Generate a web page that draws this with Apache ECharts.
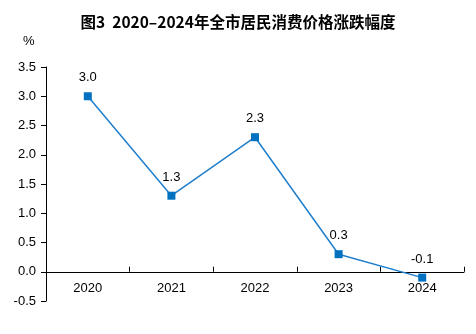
<!DOCTYPE html>
<html>
<head>
<meta charset="utf-8">
<script src="https://cdn.jsdelivr.net/npm/echarts@6/dist/echarts.min.js"></script>
<style>
  html, body { margin: 0; padding: 0; background: #fff; }
  #chart { width: 476px; height: 334px; }
</style>
</head>
<body>
<div id="chart"></div>
<script>
// Annual change in consumer prices, %
const years = ['2020', '2021', '2022', '2023', '2024'];
const cpiChange = [3.0, 1.3, 2.3, 0.3, -0.1];
const yTicks = { min: -0.5, max: 3.5, step: 0.5 };

const gridTop = 67, gridBottom = 33, chartH = 334;
// place the category axis on the zero line
const plotH = chartH - gridTop - gridBottom;
const zeroOffset = -plotH * (0 - yTicks.min) / (yTicks.max - yTicks.min);

const chart = echarts.init(document.getElementById('chart'), null, { renderer: 'canvas' });
const sans = 'Liberation Sans';
const axisFont = { fontFamily: sans, fontSize: 13, color: '#000' };

chart.setOption({
  animation: false,
  backgroundColor: '#fff',
  title: {
    text: '图3  2020–2024年全市居民消费价格涨跌幅度',
    left: 'center',
    top: 9,
    textStyle: { fontFamily: 'Noto Sans CJK SC', fontWeight: 'bold', fontSize: 15.5, color: '#000' }
  },
  graphic: [{
    type: 'text', left: 23, top: 35,
    style: { text: '%', fontFamily: sans, fontSize: 13, fill: '#000' }
  }],
  grid: { left: 46, right: 12, top: gridTop, bottom: gridBottom },
  xAxis: {
    type: 'category',
    data: years,
    boundaryGap: true,
    offset: zeroOffset,
    axisLine: { onZero: false, lineStyle: { color: '#000', width: 1 } },
    axisTick: { show: true, length: 5, inside: true, lineStyle: { color: '#000' } },
    axisLabel: Object.assign({ margin: 10 }, axisFont),
    splitLine: { show: false }
  },
  yAxis: {
    type: 'value',
    min: yTicks.min, max: yTicks.max, interval: yTicks.step,
    axisLine: { show: true, lineStyle: { color: '#000', width: 1 } },
    axisTick: { show: true, length: 5, lineStyle: { color: '#000' } },
    axisLabel: Object.assign({ margin: 10, formatter: v => v.toFixed(1) }, axisFont),
    splitLine: { show: false }
  },
  series: [{
    type: 'line',
    data: cpiChange,
    symbol: 'rect',
    symbolSize: 8,
    itemStyle: { color: '#0070C0' },
    lineStyle: { color: '#1F7FCC', width: 1.5 },
    label: {
      show: true, position: 'top', distance: 8,
      formatter: p => p.value.toFixed(1),
      fontFamily: sans, fontSize: 13, color: '#000'
    }
  }]
});
</script>
</body>
</html>
